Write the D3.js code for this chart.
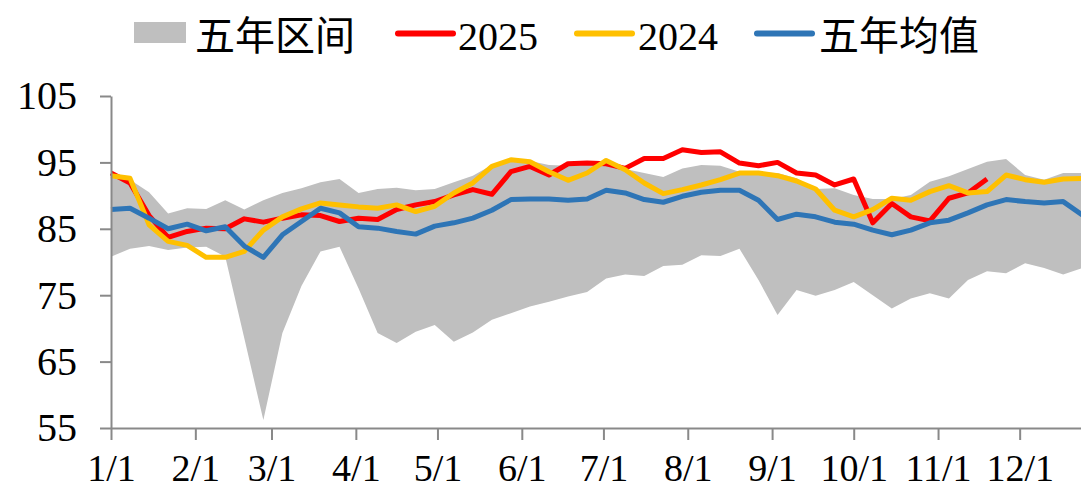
<!DOCTYPE html>
<html>
<head>
<meta charset="utf-8">
<script src="https://cdn.jsdelivr.net/npm/d3@7"></script>
<style>
    html, body { margin: 0; padding: 0; background: #fff; }
    svg text { font-family: "Liberation Serif", "Noto Sans CJK SC", serif; fill: #000; }
</style>
</head>
<body>
<div id="chart"></div>
<script>
// weekly readings, one per week from 1/1
var bandHigh = [93.1, 92.4, 90.5, 87.3, 88.1, 88.0, 89.3, 87.9, 89.3, 90.4, 91.1, 92.0, 92.5, 90.4,
    91.0, 91.2, 90.8, 91.0, 92.0, 93.0, 94.6, 95.5, 95.2, 94.6, 94.5, 94.8, 95.3, 94.0, 93.4, 92.8,
    94.1, 94.6, 94.5, 93.6, 93.5, 93.4, 92.6, 91.0, 91.1, 90.1, 89.5, 89.5, 90.1, 92.1, 92.9, 94.0,
    95.1, 95.5, 93.1, 92.4, 93.4, 93.4];
var bandLow = [80.8, 82.0, 82.4, 81.8, 82.2, 82.3, 80.8, 68.5, 56.2, 69.3, 76.4, 81.6, 82.3, 76.0,
    69.3, 67.8, 69.5, 70.5, 68.0, 69.4, 71.3, 72.3, 73.3, 74.0, 74.8, 75.5, 77.5, 78.1, 77.9, 79.4,
    79.6, 81.0, 80.9, 82.0, 77.3, 72.0, 75.8, 74.9, 75.8, 77.0, 75.0, 73.0, 74.5, 75.3, 74.5, 77.3,
    78.6, 78.3, 79.8, 79.1, 78.1, 79.1];
var y2025 = [93.4, 91.9, 87.0, 83.7, 84.6, 85.1, 85.0, 86.5, 86.0, 86.6, 87.1, 87.0, 86.1, 86.6,
    86.4, 87.9, 88.6, 89.1, 90.1, 90.9, 90.2, 93.6, 94.4, 93.1, 94.8, 94.9, 94.8, 94.1, 95.6, 95.6,
    96.9, 96.5, 96.6, 94.9, 94.5, 95.0, 93.4, 93.1, 91.6, 92.5, 85.9, 88.8, 86.8, 86.2, 89.6, 90.4,
    92.5];
var y2024 = [93.0, 92.6, 85.6, 83.1, 82.5, 80.7, 80.7, 81.6, 84.8, 86.8, 88.0, 88.9, 88.6, 88.3,
    88.1, 88.6, 87.6, 88.4, 90.4, 91.9, 94.4, 95.4, 95.1, 93.6, 92.3, 93.4, 95.3, 93.9, 91.9, 90.3,
    90.9, 91.6, 92.4, 93.4, 93.4, 93.0, 92.2, 91.0, 87.8, 86.8, 87.9, 89.6, 89.3, 90.6, 91.5, 90.4,
    90.6, 93.1, 92.4, 92.0, 92.5, 92.6];
var avg5 = [87.9, 88.1, 86.6, 85.0, 85.7, 84.7, 85.3, 82.4, 80.7, 84.1, 86.1, 88.1, 87.4, 85.3,
    85.1, 84.6, 84.2, 85.4, 85.9, 86.6, 87.8, 89.4, 89.5, 89.5, 89.3, 89.5, 90.8, 90.4, 89.4, 89.0,
    89.9, 90.5, 90.8, 90.8, 89.3, 86.4, 87.2, 86.8, 86.0, 85.7, 84.8, 84.1, 84.8, 85.9, 86.3, 87.4,
    88.6, 89.4, 89.1, 88.9, 89.1, 87.1];
var yTicks = [55, 65, 75, 85, 95, 105];
var monthLabels = ['1/1', '2/1', '3/1', '4/1', '5/1', '6/1', '7/1', '8/1', '9/1', '10/1', '11/1', '12/1'];

var svg_dx = 1081, svg_dy = 490;
var start = new Date(2025, 0, 1);
var weeks = bandHigh.map(function (v, i) { return d3.timeDay.offset(start, 7 * i); });
var months = monthLabels.map(function (l, i) { return new Date(2025, i, 1); });

var x = d3.scaleTime()
    .domain([start, new Date(2026, 0, 1)])
    .range([111, 1104]);
var y = d3.scaleLinear()
    .domain([55, 105])
    .range([428, 96]);

var svg = d3.select('#chart').append('svg')
    .attr('width', svg_dx)
    .attr('height', svg_dy);

// five-year band
var band = d3.area()
    .x(function (d, i) { return x(weeks[i]); })
    .y0(function (d, i) { return y(bandLow[i]); })
    .y1(function (d) { return y(d); });
svg.append('path')
    .attr('d', band(bandHigh))
    .attr('fill', '#bfbfbf');

var line = d3.line()
    .x(function (d, i) { return x(weeks[i]); })
    .y(function (d) { return y(d); });

var series = [
    {name: '2025', values: y2025, color: '#ff0000'},
    {name: '2024', values: y2024, color: '#ffc000'},
    {name: '五年均值', values: avg5, color: '#2e75b6'}
];
series.forEach(function (s) {
    svg.append('path')
        .attr('d', line(s.values))
        .attr('fill', 'none')
        .attr('stroke', s.color)
        .attr('stroke-width', 5)
        .attr('stroke-linejoin', 'round');
});

// axes
var yAxis = d3.axisLeft(y)
    .tickValues(yTicks)
    .tickSize(11)
    .tickSizeOuter(0)
    .tickPadding(23);
var xAxis = d3.axisBottom(x)
    .tickValues(months)
    .tickFormat(function (d, i) { return monthLabels[i]; })
    .tickSize(12)
    .tickSizeOuter(0)
    .tickPadding(14);

var gy = svg.append('g')
    .attr('transform', 'translate(111,0)')
    .call(yAxis);
var gx = svg.append('g')
    .attr('transform', 'translate(0,428)')
    .call(xAxis);

[gx, gy].forEach(function (g) {
    g.selectAll('path, line').attr('stroke', '#898989').attr('stroke-width', 2);
    g.selectAll('text')
        .attr('font-size', 40)
        .attr('font-family', '"Liberation Serif", serif')
        .attr('fill', '#000');
});
// bottom labels a touch smaller so they stay inside the frame
gx.selectAll('text').attr('font-size', 38);

// legend
var legend = svg.append('g');
legend.append('rect')
    .attr('x', 134).attr('y', 22)
    .attr('width', 52).attr('height', 21)
    .attr('fill', '#bfbfbf');
legend.append('text')
    .attr('x', 195).attr('y', 50)
    .attr('font-size', 40)
    .text('五年区间');

var legendItems = [
    {x: 398, tx: 458},
    {x: 577, tx: 638},
    {x: 757, tx: 819}
];
series.forEach(function (s, i) {
    legend.append('line')
        .attr('x1', legendItems[i].x).attr('x2', legendItems[i].x + 55)
        .attr('y1', 33.5).attr('y2', 33.5)
        .attr('stroke', s.color)
        .attr('stroke-width', 6)
        .attr('stroke-linecap', 'round');
    legend.append('text')
        .attr('x', legendItems[i].tx).attr('y', 50)
        .attr('font-size', 40)
        .text(s.name);
});
</script>
</body>
</html>
